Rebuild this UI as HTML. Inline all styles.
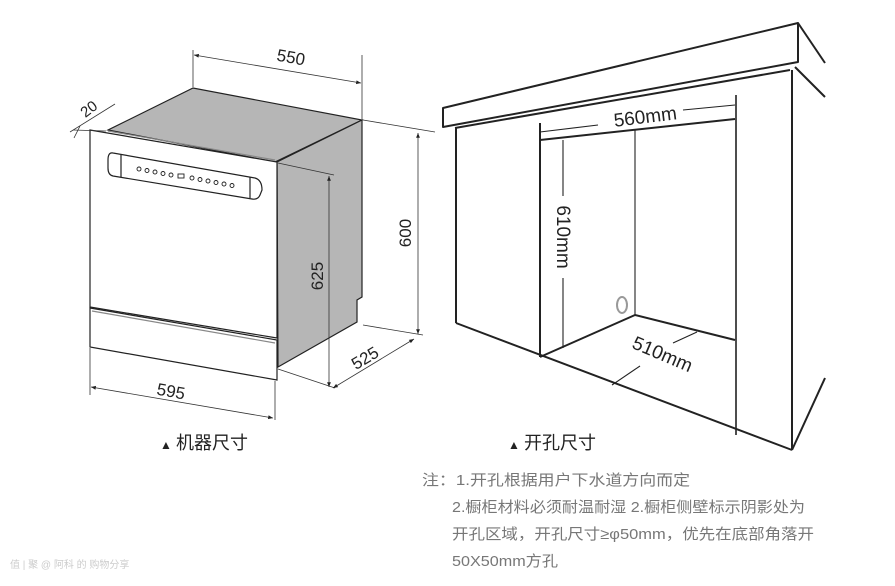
<!DOCTYPE html>
<html><head><meta charset="utf-8"><style>
html,body{margin:0;padding:0;background:#fff;}
svg{display:block;}
text{font-family:"Liberation Sans","Noto Sans CJK SC",sans-serif;}
</style></head><body>
<svg width="895" height="586" viewBox="0 0 895 586" xmlns="http://www.w3.org/2000/svg">
<defs>
<marker id="a" viewBox="0 0 10 10" refX="10" refY="5" markerWidth="9" markerHeight="6" orient="auto-start-reverse"><path d="M0,1 L10,5 L0,9 z" fill="#222"/></marker>
</defs>
<g stroke="#222" stroke-width="1.2" fill="none">
<polygon points="108,130 193,88 362,120 275,162" fill="#b6b6b6"/>
<polygon points="277,162 362,120 362,297 357,300 357,322 278,367" fill="#b6b6b6"/>
<polygon points="90,130 277,162 277,338 90,307" fill="#fff"/>
<line x1="108" y1="131" x2="275" y2="160" stroke="#888"/>
<polygon points="90,308 277,340 277,380 90,347" fill="#fff"/>
<line x1="92" y1="311" x2="275" y2="343" stroke="#888"/>
<path d="M113,153 L255,178 Q262,180 262,190 L260,195 Q258,200 252,199 L113,176 Q108,175 108,168 L108,160 Q108,152 113,153 z"/>
<line x1="121" y1="155" x2="121" y2="177"/>
<line x1="250" y1="177" x2="250" y2="198"/>
</g>
<g fill="none" stroke="#222" stroke-width="0.9">
<circle cx="139" cy="169" r="2"/><circle cx="147" cy="170.5" r="2"/><circle cx="155" cy="172" r="2"/><circle cx="163" cy="173.5" r="2"/><circle cx="171" cy="175" r="2"/>
<rect x="178" y="174" width="6" height="4"/>
<circle cx="192" cy="178" r="2"/><circle cx="200" cy="179.5" r="2"/><circle cx="208" cy="181" r="2"/><circle cx="216" cy="182.5" r="2"/><circle cx="224" cy="184" r="2"/><circle cx="232" cy="185.5" r="2"/>
</g>
<g stroke="#333" stroke-width="0.8" fill="none">
<line x1="193" y1="50" x2="193" y2="87"/>
<line x1="362" y1="55" x2="362" y2="119"/>
<line x1="194" y1="55" x2="361" y2="83" marker-start="url(#a)" marker-end="url(#a)"/>
<line x1="363" y1="120" x2="435" y2="132"/>
<line x1="363" y1="325" x2="423" y2="335"/>
<line x1="418" y1="133" x2="418" y2="334" marker-start="url(#a)" marker-end="url(#a)"/>
<line x1="278" y1="163" x2="334" y2="175"/>
<line x1="329" y1="176" x2="329" y2="387" marker-start="url(#a)" marker-end="url(#a)"/>
<line x1="278" y1="369" x2="335" y2="388"/>
<line x1="333" y1="388" x2="414" y2="339" marker-start="url(#a)" marker-end="url(#a)"/>
<line x1="90" y1="348" x2="90" y2="395"/>
<line x1="275" y1="381" x2="275" y2="420"/>
<line x1="91" y1="387" x2="273" y2="418" marker-start="url(#a)" marker-end="url(#a)"/>
<line x1="70" y1="132" x2="115" y2="104"/>
<line x1="73" y1="130" x2="106" y2="131"/>
<line x1="74" y1="138" x2="80" y2="126"/>
</g>
<g fill="#222" font-size="17">
<text transform="translate(290,63) rotate(10)" text-anchor="middle">550</text>
<text transform="translate(411,233) rotate(-90)" text-anchor="middle">600</text>
<text transform="translate(323,276) rotate(-90)" text-anchor="middle">625</text>
<text transform="translate(368,363) rotate(-31)" text-anchor="middle">525</text>
<text transform="translate(170,397) rotate(10)" text-anchor="middle">595</text>
<text transform="translate(92,113) rotate(-38)" text-anchor="middle" font-size="15">20</text>
</g>
<g stroke="#222" stroke-width="2" fill="none" stroke-linejoin="round">
<polygon points="443,108 798,23 798,62 443,127"/>
<line x1="798" y1="23" x2="825" y2="63"/>
<line x1="795" y1="67" x2="825" y2="97"/>
<line x1="455" y1="128" x2="790" y2="70"/>
<line x1="456" y1="128" x2="456" y2="323"/>
<line x1="792" y1="70" x2="792" y2="450"/>
<line x1="456" y1="323" x2="792" y2="450"/>
<line x1="792" y1="450" x2="825" y2="378"/>
<line x1="540" y1="123" x2="540" y2="357"/>
<line x1="540" y1="140" x2="735" y2="119"/>
<line x1="736" y1="95" x2="736" y2="435" stroke-width="1.6"/>
<line x1="540" y1="357" x2="635" y2="315"/>
<line x1="635" y1="315" x2="735" y2="340"/>
</g>
<g stroke="#222" stroke-width="1.1" fill="none">
<line x1="563" y1="140" x2="563" y2="348"/>
<line x1="635" y1="130" x2="635" y2="315"/>
<line x1="540" y1="132" x2="598" y2="125"/>
<line x1="683" y1="110" x2="735" y2="105"/>
<line x1="612" y1="385" x2="640" y2="366"/>
<line x1="673" y1="343" x2="697" y2="332"/>
</g>
<rect x="556" y="196" width="14" height="82" fill="#fff"/>
<ellipse cx="622" cy="305" rx="5" ry="8" fill="none" stroke="#999" stroke-width="2"/>
<g fill="#222" font-size="19">
<text transform="translate(646,123) rotate(-7)" text-anchor="middle">560mm</text>
<text transform="translate(557,237) rotate(90)" text-anchor="middle">610mm</text>
<text transform="translate(660,360) rotate(23)" text-anchor="middle">510mm</text>
</g>
<g fill="#222" font-size="18" font-family="Noto Sans CJK SC, sans-serif">
<text x="160" y="449" font-size="12">▲</text><text x="176" y="449">机器尺寸</text>
<text x="508" y="449" font-size="12">▲</text><text x="524" y="449">开孔尺寸</text>
</g>
<g fill="#777" font-size="15" font-family="Noto Sans CJK SC, sans-serif">
<text x="422" y="485" textLength="268" lengthAdjust="spacingAndGlyphs">注：1.开孔根据用户下水道方向而定</text>
<text x="452" y="512" textLength="353" lengthAdjust="spacingAndGlyphs">2.橱柜材料必须耐温耐湿 2.橱柜侧壁标示阴影处为</text>
<text x="452" y="539" textLength="362" lengthAdjust="spacingAndGlyphs">开孔区域，开孔尺寸≥φ50mm，优先在底部角落开</text>
<text x="452" y="566" textLength="106" lengthAdjust="spacingAndGlyphs">50X50mm方孔</text>
<text x="10" y="568" font-size="10" fill="#ccc">值 | 聚 @ 阿科 的 购物分享</text>
</g>
</svg>
</body></html>
